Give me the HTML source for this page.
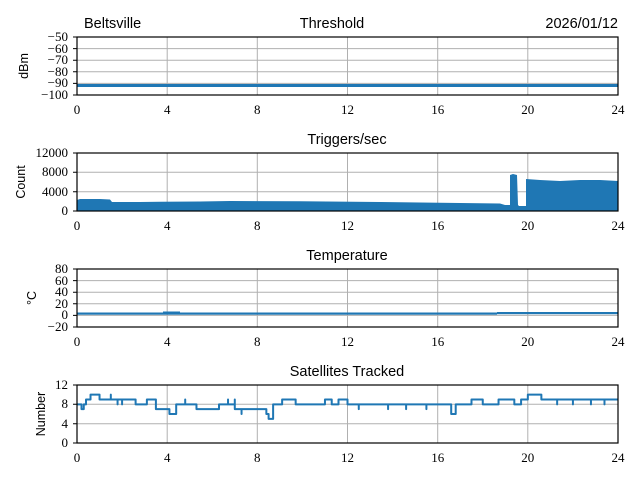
<!DOCTYPE html>
<html><head><meta charset="utf-8"><style>
body{margin:0;background:#fff}
svg{display:block}
.t{font-family:"Liberation Serif",serif;font-size:13px;fill:#000}
.s{font-family:"Liberation Sans",sans-serif;font-size:14.5px;fill:#000}
.y{font-family:"Liberation Sans",sans-serif;font-size:12.5px;fill:#000}
.g line{stroke:#b0b0b0;stroke-width:1}
.ax{fill:none;stroke:#000;stroke-width:1.2}
.d{fill:none;stroke:#1f77b4;stroke-width:2;vector-effect:non-scaling-stroke;stroke-linejoin:round}
</style></head><body>
<svg width="640" height="480" viewBox="0 0 640 480">
<!-- grids -->
<g class="g">
<!-- vertical grid lines each panel -->
<line x1="167.2" y1="37" x2="167.2" y2="95"/><line x1="257.3" y1="37" x2="257.3" y2="95"/><line x1="347.5" y1="37" x2="347.5" y2="95"/><line x1="437.7" y1="37" x2="437.7" y2="95"/><line x1="527.8" y1="37" x2="527.8" y2="95"/>
<line x1="77" y1="48.6" x2="618" y2="48.6"/><line x1="77" y1="60.2" x2="618" y2="60.2"/><line x1="77" y1="71.8" x2="618" y2="71.8"/><line x1="77" y1="83.4" x2="618" y2="83.4"/>
<line x1="167.2" y1="153" x2="167.2" y2="211"/><line x1="257.3" y1="153" x2="257.3" y2="211"/><line x1="347.5" y1="153" x2="347.5" y2="211"/><line x1="437.7" y1="153" x2="437.7" y2="211"/><line x1="527.8" y1="153" x2="527.8" y2="211"/>
<line x1="77" y1="172.3" x2="618" y2="172.3"/><line x1="77" y1="191.7" x2="618" y2="191.7"/>
<line x1="167.2" y1="269" x2="167.2" y2="327"/><line x1="257.3" y1="269" x2="257.3" y2="327"/><line x1="347.5" y1="269" x2="347.5" y2="327"/><line x1="437.7" y1="269" x2="437.7" y2="327"/><line x1="527.8" y1="269" x2="527.8" y2="327"/>
<line x1="77" y1="280.6" x2="618" y2="280.6"/><line x1="77" y1="292.2" x2="618" y2="292.2"/><line x1="77" y1="303.8" x2="618" y2="303.8"/><line x1="77" y1="315.4" x2="618" y2="315.4"/>
<line x1="167.2" y1="385" x2="167.2" y2="443"/><line x1="257.3" y1="385" x2="257.3" y2="443"/><line x1="347.5" y1="385" x2="347.5" y2="443"/><line x1="437.7" y1="385" x2="437.7" y2="443"/><line x1="527.8" y1="385" x2="527.8" y2="443"/>
<line x1="77" y1="404.3" x2="618" y2="404.3"/><line x1="77" y1="423.7" x2="618" y2="423.7"/>
</g>
<!-- data panel 1 -->
<rect x="77" y="84" width="541" height="3" fill="#1f77b4"/>
<!-- panel 2 -->
<polygon fill="#1f77b4" points="77,211 77,200 80,199 100,199 110,199.5 112,202 140,202 160,201.7 200,201.5 230,201 300,201.3 380,202 420,202.5 460,203 500,203.5 505,205 510,205 510,175 513,174 517,175 518,205 519,206 526,206 526,179 540,180 560,181 580,180 600,180 618,181 618,211"/>
<rect x="510" y="207" width="108" height="4" fill="#1f77b4"/>
<!-- panel 3 -->
<rect x="77" y="312.5" width="420" height="2.2" fill="#1f77b4"/>
<rect x="497" y="312" width="121" height="2.2" fill="#1f77b4"/>
<rect x="163" y="311.5" width="17" height="2" fill="#1f77b4"/>
<!-- panel 4 -->
<g transform="translate(77,443) scale(22.542,-4.833)">
<path class="d" d="M0,8 H0.2 V7 H0.3 V8 H0.4 V9 H0.6 V10 H1 V9 H1.5 V10 V9 H1.8 V8 V9 H2 V8 V9 H2.6 V8 H3.1 V9 H3.5 V7 H4.1 V6 H4.4 V8 H4.8 V9 V8 H5.3 V7 V8 V7 H6.3 V8 H6.7 V9 V8 H7 V7 V9 V7 H7.3 V6 V7 H8.4 V6 H8.5 V5 H8.7 V6 V8 H9.1 V9 H9.7 V8 H11 V9 H11.3 V8 H11.6 V9 H12 V8 H12.5 V7 V8 H13.8 V7 V8 H14.6 V7 V8 H15.5 V7 V8 H16.6 V6 H16.8 V8 H17.5 V9 H18 V8 H18.7 V9 H19.4 V8 H19.7 V9 H20 V10 H20.6 V9 H21.3 V8 V9 H22 V8 V9 H22.8 V8 V9 H23.4 V8 V9 H24"/>
</g>
<!-- axes boxes -->
<rect class="ax" x="77" y="37" width="541" height="58"/>
<rect class="ax" x="77" y="153" width="541" height="58"/>
<rect class="ax" x="77" y="269" width="541" height="58"/>
<rect class="ax" x="77" y="385" width="541" height="58"/>
<!-- ticks & labels -->
<g class="t" text-anchor="middle">
<text x="77" y="114">0</text><text x="167.2" y="114">4</text><text x="257.3" y="114">8</text><text x="347.5" y="114">12</text><text x="437.7" y="114">16</text><text x="527.8" y="114">20</text><text x="618" y="114">24</text>
<text x="77" y="230">0</text><text x="167.2" y="230">4</text><text x="257.3" y="230">8</text><text x="347.5" y="230">12</text><text x="437.7" y="230">16</text><text x="527.8" y="230">20</text><text x="618" y="230">24</text>
<text x="77" y="346">0</text><text x="167.2" y="346">4</text><text x="257.3" y="346">8</text><text x="347.5" y="346">12</text><text x="437.7" y="346">16</text><text x="527.8" y="346">20</text><text x="618" y="346">24</text>
<text x="77" y="462">0</text><text x="167.2" y="462">4</text><text x="257.3" y="462">8</text><text x="347.5" y="462">12</text><text x="437.7" y="462">16</text><text x="527.8" y="462">20</text><text x="618" y="462">24</text>
</g>
<g class="t" text-anchor="end">
<text x="68" y="41">−50</text><text x="68" y="53">−60</text><text x="68" y="64">−70</text><text x="68" y="76">−80</text><text x="68" y="87">−90</text><text x="68" y="99">−100</text>
<text x="68" y="157">12000</text><text x="68" y="176">8000</text><text x="68" y="196">4000</text><text x="68" y="215">0</text>
<text x="68" y="273">80</text><text x="68" y="285">60</text><text x="68" y="296">40</text><text x="68" y="308">20</text><text x="68" y="319">0</text><text x="68" y="331">−20</text>
<text x="68" y="389">12</text><text x="68" y="408">8</text><text x="68" y="428">4</text><text x="68" y="447">0</text>
</g>
<g stroke="#000" stroke-width="1">
<path d="M73,37H77M73,48.6H77M73,60.2H77M73,71.8H77M73,83.4H77M73,95H77M73,153H77M73,172.3H77M73,191.7H77M73,211H77M73,269H77M73,280.6H77M73,292.2H77M73,303.8H77M73,315.4H77M73,327H77M73,385H77M73,404.3H77M73,423.7H77M73,443H77"/>
</g>
<!-- titles -->
<text class="s" x="84" y="28">Beltsville</text>
<text class="s" x="332" y="28" text-anchor="middle">Threshold</text>
<text class="s" x="618" y="28" text-anchor="end">2026/01/12</text>
<text class="s" x="347" y="144" text-anchor="middle">Triggers/sec</text>
<text class="s" x="347" y="260" text-anchor="middle">Temperature</text>
<text class="s" x="347" y="376" text-anchor="middle">Satellites Tracked</text>
<text class="y" transform="translate(28,66) rotate(-90)" text-anchor="middle">dBm</text>
<text class="y" transform="translate(25,182) rotate(-90)" text-anchor="middle">Count</text>
<text class="y" transform="translate(36,298) rotate(-90)" text-anchor="middle">°C</text>
<text class="y" transform="translate(45,414) rotate(-90)" text-anchor="middle">Number</text>
</svg>
</body></html>
